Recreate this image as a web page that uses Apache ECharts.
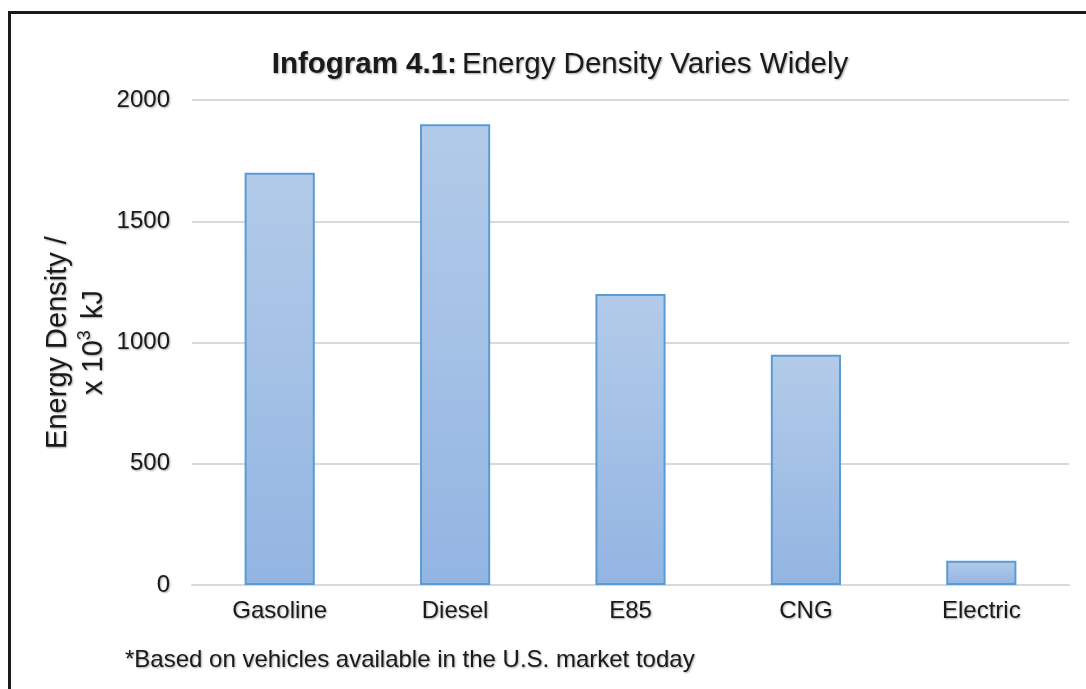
<!DOCTYPE html>
<html>
<head>
<meta charset="utf-8">
<script src="https://cdn.jsdelivr.net/npm/echarts@6/dist/echarts.min.js"></script>
<style>
  html, body { margin: 0; padding: 0; background: #fff; }
  #chart { width: 1086px; height: 689px; }
</style>
</head>
<body>
<div id="chart"></div>
<script>
// Vehicle fuels and their energy density (x 10^3 kJ)
const fuels = ['Gasoline', 'Diesel', 'E85', 'CNG', 'Electric'];
const energyDensity = [1700, 1900, 1200, 950, 100];
const yTicks = [0, 500, 1000, 1500, 2000];

const FONT = '"Liberation Sans", Arial, sans-serif';
const shadow = {
  textShadowColor: 'rgba(0,0,0,0.35)',
  textShadowBlur: 2,
  textShadowOffsetX: 1,
  textShadowOffsetY: 1
};

const chart = echarts.init(document.getElementById('chart'));
chart.setOption({
  animation: false,
  backgroundColor: '#fff',
  title: {
    text: '{b|Infogram 4.1:} {n|Energy Density Varies Widely}',
    left: 555,
    textAlign: 'center',
    top: 45,
    textStyle: {
      fontWeight: 'normal',
      rich: {
        b: Object.assign({ fontFamily: FONT, fontSize: 29.5, fontWeight: 'bold', color: '#1a1a1a' }, shadow),
        n: Object.assign({ fontFamily: FONT, fontSize: 29.5, fontWeight: 'normal', color: '#1a1a1a' }, shadow)
      }
    }
  },
  grid: { left: 192, right: 17, top: 100, bottom: 104 },
  xAxis: {
    type: 'category',
    data: fuels,
    axisLine: { show: true, lineStyle: { color: '#d9d9d9', width: 2 } },
    axisTick: { show: false },
    axisLabel: Object.assign({ fontFamily: FONT, fontSize: 24, color: '#1a1a1a', margin: 14 }, shadow)
  },
  yAxis: {
    type: 'value',
    min: yTicks[0],
    max: yTicks[yTicks.length - 1],
    interval: 500,
    name: '{t|Energy Density /}\n{t|x 10}{s|3}{t| kJ}',
    nameLocation: 'middle',
    nameRotate: 90,
    nameGap: 80,
    nameMoveOverlap: false,
    nameTextStyle: {
      lineHeight: 36,
      rich: {
        t: Object.assign({ fontFamily: FONT, fontSize: 29, color: '#1a1a1a', lineHeight: 36 }, shadow),
        s: Object.assign({ fontFamily: FONT, fontSize: 18, color: '#1a1a1a', verticalAlign: 'top', padding: [0, 3, 12, 0] }, shadow)
      }
    },
    axisLine: { show: false },
    axisTick: { show: false },
    axisLabel: Object.assign({
      fontFamily: FONT, fontSize: 24, color: '#1a1a1a', margin: 22,
      formatter: v => String(v)
    }, shadow),
    splitLine: { lineStyle: { color: '#d9d9d9', width: 2 } }
  },
  series: [{
    type: 'bar',
    data: energyDensity,
    barWidth: '40%',
    itemStyle: {
      color: new echarts.graphic.LinearGradient(0, 0, 0, 1, [
        { offset: 0, color: '#b3cbe9' },
        { offset: 1, color: '#93b5e2' }
      ]),
      borderColor: '#5b9bd5',
      borderWidth: 2
    }
  }],
  graphic: [
    {
      type: 'rect',
      shape: { x: 9.5, y: 12.5, width: 1200, height: 800 },
      style: { fill: 'none', stroke: '#1a1a1a', lineWidth: 3 },
      silent: true
    },
    {
      type: 'text',
      left: 125,
      top: 648,
      style: Object.assign({
        text: '*Based on vehicles available in the U.S. market today',
        font: '24px ' + FONT,
        fill: '#1a1a1a'
      }, shadow)
    }
  ]
});
</script>
</body>
</html>
